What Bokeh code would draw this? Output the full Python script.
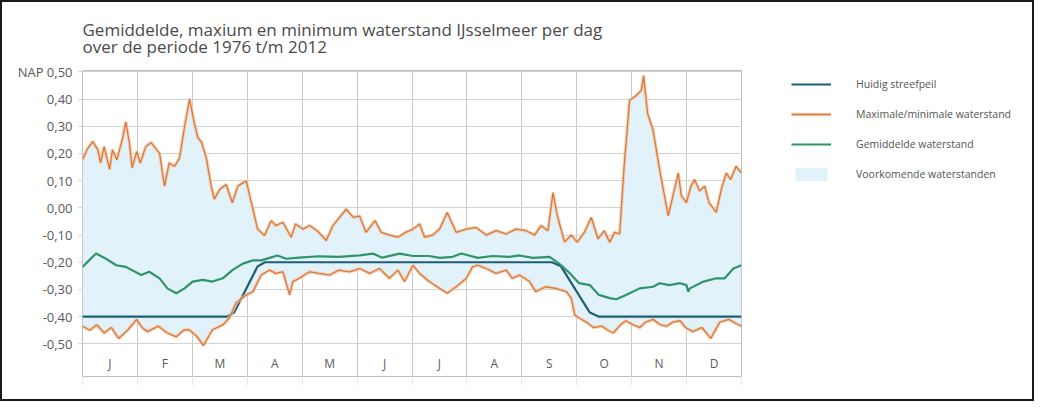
from bokeh.plotting import figure
from bokeh.layouts import row
from bokeh.models import FixedTicker, Legend, LegendItem, Range1d
from bokeh.core.properties import value
from bokeh.embed import file_html
from bokeh.resources import INLINE

# ---------------- data ----------------
months = ["J", "F", "M", "A", "M", "J", "J", "A", "S", "O", "N", "D"]
y_ticks = [0.5, 0.4, 0.3, 0.2, 0.1, 0.0, -0.1, -0.2, -0.3, -0.4, -0.5]
y_labels = ["NAP 0,50", "0,40", "0,30", "0,20", "0,10", "0,00",
            "-0,10", "-0,20", "-0,30", "-0,40", "-0,50"]

# maximum water level per day (day position, NAP m)
max_days = [0, 3, 5.7, 8.5, 10, 12, 15, 16.6, 19, 22, 24, 26, 27.5, 30, 32, 35, 38,
            42.7, 45.4, 48, 51, 53.7, 56.5, 59.3, 62, 64, 65.8, 68.6, 71.3, 73, 76,
            79.6, 83, 86, 88.8, 90.7, 94.4, 97, 100.8, 104.5, 107, 111, 115.6, 118,
            122, 125.8, 130, 135, 138.7, 146, 150, 153.5, 157, 162, 165.5, 170,
            174.7, 179, 183, 186.7, 189.5, 194, 197.8, 202, 207, 212.6, 218, 223.6,
            229, 234.7, 240, 245.8, 250.4, 254, 257.8, 260.6, 263, 267, 270.7, 274,
            278, 281.8, 285.5, 289, 292, 294.7, 297.5, 300, 303, 306.7, 309.5, 310.8,
            313, 316, 320, 324.4, 327, 330, 331.7, 334.5, 337, 339, 341.8, 344.6,
            347, 351, 353.8, 356.6, 359, 362, 365]
max_vals = [0.177, 0.22, 0.244, 0.213, 0.165, 0.225, 0.142, 0.214, 0.177, 0.25, 0.316,
            0.238, 0.147, 0.207, 0.165, 0.225, 0.24, 0.2, 0.08, 0.165, 0.153, 0.183,
            0.298, 0.401, 0.31, 0.256, 0.244, 0.183, 0.08, 0.032, 0.068, 0.086, 0.019,
            0.08, 0.092, 0.098, -0.005, -0.078, -0.102, -0.047, -0.065, -0.053, -0.108,
            -0.059, -0.078, -0.065, -0.084, -0.12, -0.065, -0.005, -0.035, -0.03,
            -0.09, -0.047, -0.09, -0.10, -0.108, -0.09, -0.078, -0.059, -0.108, -0.10,
            -0.078, -0.017, -0.09, -0.078, -0.072, -0.10, -0.084, -0.096, -0.078,
            -0.084, -0.10, -0.065, -0.084, 0.056, -0.029, -0.126, -0.10, -0.126,
            -0.09, -0.035, -0.114, -0.084, -0.126, -0.09, -0.096, 0.153, 0.395, 0.413,
            0.432, 0.486, 0.347, 0.286, 0.128, -0.029, 0.044, 0.128, 0.044, 0.019,
            0.08, 0.104, 0.062, 0.08, 0.019, -0.017, 0.068, 0.128, 0.104, 0.153, 0.128]

# minimum water level per day
min_days = [0, 4, 8, 12, 16, 20, 25, 30, 33, 36, 42, 47, 52, 56, 59, 63, 67, 72, 78,
            81.5, 85, 90.7, 94.4, 99, 103.6, 107, 111, 114.7, 116.5, 120, 125.8, 131,
            137, 142, 148, 153.5, 159, 164.5, 170, 174.7, 178.4, 183, 186.7, 192,
            197.8, 202, 207, 212.6, 216, 219, 223.6, 229, 234.7, 238, 242, 247.6, 251,
            256.6, 262, 268, 270.7, 272.6, 275, 279, 283, 287.7, 291, 294, 298, 301,
            305, 308.7, 312, 316, 320, 323.5, 327, 331, 334, 338, 343, 348, 353, 358,
            362, 365]
min_vals = [-0.435, -0.45, -0.43, -0.46, -0.44, -0.48, -0.45, -0.41, -0.44, -0.455,
            -0.435, -0.46, -0.474, -0.45, -0.448, -0.47, -0.506, -0.448, -0.429,
            -0.403, -0.35, -0.32, -0.308, -0.247, -0.229, -0.241, -0.235, -0.32,
            -0.271, -0.259, -0.235, -0.241, -0.247, -0.229, -0.235, -0.223, -0.241,
            -0.223, -0.259, -0.229, -0.271, -0.211, -0.241, -0.271, -0.296, -0.314,
            -0.29, -0.259, -0.217, -0.211, -0.223, -0.241, -0.229, -0.259, -0.247,
            -0.271, -0.308, -0.29, -0.296, -0.308, -0.332, -0.393, -0.405, -0.42,
            -0.44, -0.435, -0.45, -0.46, -0.43, -0.415, -0.43, -0.44, -0.42, -0.41,
            -0.43, -0.435, -0.42, -0.415, -0.44, -0.455, -0.44, -0.48, -0.42, -0.41,
            -0.425, -0.435]

# mean water level per day
mean_days = [0, 7.5, 13, 18.7, 24, 32.5, 37, 42.7, 47, 52, 56.5, 61, 66.6, 72, 77.7,
             83, 88.8, 94.4, 99, 103.6, 108, 112.8, 120, 131, 142, 153.5, 160.8, 166,
             175.6, 183, 192, 197.8, 205, 209.8, 214, 219, 227, 236.5, 242, 249.5,
             258.7, 264, 270, 275, 281, 286, 292, 295.7, 301, 308.6, 316, 319.7, 325,
             331, 334.5, 335.5, 336.4, 344, 351, 355.7, 360.5, 365]
mean_vals = [-0.217, -0.168, -0.187, -0.211, -0.217, -0.247, -0.235, -0.259, -0.296,
             -0.314, -0.296, -0.271, -0.265, -0.271, -0.259, -0.229, -0.205, -0.193,
             -0.193, -0.184, -0.175, -0.187, -0.183, -0.178, -0.18, -0.175, -0.168,
             -0.183, -0.168, -0.177, -0.177, -0.184, -0.18, -0.168, -0.175, -0.184,
             -0.177, -0.18, -0.175, -0.184, -0.18, -0.205, -0.241, -0.277, -0.284,
             -0.32, -0.332, -0.336, -0.32, -0.296, -0.29, -0.277, -0.284, -0.277,
             -0.284, -0.308, -0.296, -0.271, -0.259, -0.259, -0.223, -0.211]

# current target level (streefpeil)
peil_days = [0, 80, 84, 97, 101, 260, 265, 281, 286, 365]
peil_vals = [-0.40, -0.40, -0.385, -0.215, -0.20, -0.20, -0.215, -0.385, -0.40, -0.40]

legend_labels = ["Huidig streefpeil", "Maximale/minimale waterstand",
                 "Gemiddelde waterstand", "Voorkomende waterstanden"]

# ---------------- styling ----------------
year_len = 365
month_edges = [year_len * i / 12 for i in range(13)]
month_mid = [year_len * (i + 0.5) / 12 for i in range(12)]

FONT = "Open Sans"
TXT = "#555555"
C_PEIL = "#1f5e74"
C_MAXMIN = "#d57a3e"
C_HALO = "#f6c3a0"
C_MEAN = "#2f9466"
C_BAND = "#e1f2fa"

band_x = max_days + min_days[::-1]
band_y = max_vals + min_vals[::-1]


def draw_series(fig):
    """Draw all series on a figure; returns the renderers used by the legend."""
    r_band = fig.patch(x=band_x, y=band_y, fill_color=C_BAND, line_color=None)
    r_peil = fig.line(peil_days, peil_vals, line_color=C_PEIL, line_width=2.2)
    r_halo = fig.line(max_days, max_vals, line_color=C_HALO, line_width=3.5, line_alpha=0.7)
    fig.line(min_days, min_vals, line_color=C_HALO, line_width=3.5, line_alpha=0.7)
    r_mm = fig.line(max_days, max_vals, line_color=C_MAXMIN, line_width=1.3)
    fig.line(min_days, min_vals, line_color=C_MAXMIN, line_width=1.3)
    r_mean = fig.line(mean_days, mean_vals, line_color=C_MEAN, line_width=2.2)
    return r_peil, [r_halo, r_mm], r_mean, r_band


# ---------------- main chart ----------------
p = figure(width=749, height=397, x_range=(0, year_len), y_range=(-0.62, 0.505),
           output_backend="svg", toolbar_location=None,
           min_border_left=80, min_border_right=10, min_border_top=68,
           min_border_bottom=23)

p.title.text = ("Gemiddelde, maxium en minimum waterstand IJsselmeer per dag\n"
                "over de periode 1976 t/m 2012")
p.title.text_font = FONT
p.title.text_font_size = "17px"
p.title.text_font_style = "normal"
p.title.text_color = "#4a4a4a"
p.title.text_line_height = 0.78
p.title.align = "left"
p.title.vertical_align = "top"
p.title.standoff = 20

p.background_fill_color = "white"
p.border_fill_color = "white"
p.outline_line_color = "#bdbdbd"

p.xgrid.ticker = FixedTicker(ticks=month_edges)
p.xgrid.grid_line_color = "#c9c9c9"
p.ygrid.ticker = FixedTicker(ticks=y_ticks)
p.ygrid.grid_line_color = "#d2d2d2"

p.yaxis.ticker = FixedTicker(ticks=y_ticks)
p.yaxis.major_label_overrides = {t: l for t, l in zip(y_ticks, y_labels)}
p.yaxis.axis_line_color = None
p.yaxis.major_tick_out = 4
p.yaxis.major_tick_in = 0
p.yaxis.major_tick_line_color = "#d0d0d0"
p.yaxis.minor_tick_line_color = None
p.yaxis.major_label_text_font = FONT
p.yaxis.major_label_text_font_size = "13px"
p.yaxis.major_label_text_color = "#5a5a5a"
p.yaxis.major_label_standoff = 6

p.xaxis.ticker = FixedTicker(ticks=month_edges)
p.xaxis.major_label_overrides = {t: "" for t in month_edges}
p.xaxis.axis_line_color = None
p.xaxis.major_tick_out = 9
p.xaxis.major_tick_in = 0
p.xaxis.major_tick_line_color = "#e8e8e8"
p.xaxis.minor_tick_line_color = None
p.xaxis.major_label_text_font_size = "1px"

draw_series(p)

p.text(x=month_mid, y=[-0.572] * 12, text=months, text_align="center",
       text_baseline="middle", text_font=value(FONT), text_font_size="12px",
       text_color="#5a5a5a")

# ---------------- legend panel (same series, ranges chosen so nothing is visible) ----
lg = figure(width=281, height=397, x_range=Range1d(1000, 1001), y_range=Range1d(10, 11),
            output_backend="svg", toolbar_location=None,
            min_border=0, min_border_left=0, min_border_right=0,
            min_border_top=0, min_border_bottom=0)
lg.axis.visible = False
lg.grid.visible = False
lg.outline_line_color = None
lg.background_fill_color = "white"
lg.border_fill_color = "white"

r_peil, r_mm, r_mean, r_band = draw_series(lg)

legend = Legend(items=[
    LegendItem(label=legend_labels[0], renderers=[r_peil]),
    LegendItem(label=legend_labels[1], renderers=r_mm),
    LegendItem(label=legend_labels[2], renderers=[r_mean]),
    LegendItem(label=legend_labels[3], renderers=[r_band]),
], location=(40, 194))
legend.background_fill_alpha = 0
legend.border_line_color = None
legend.padding = 0
legend.margin = 0
legend.glyph_width = 40
legend.glyph_height = 16
legend.label_height = 16
legend.spacing = 14
legend.label_standoff = 25
legend.label_text_font = FONT
legend.label_text_font_size = "10.5px"
legend.label_text_color = TXT
lg.add_layout(legend, "center")

layout = row(p, lg, styles={"border": "2px solid #1a1a1a"})

open("out.html", "w").write(file_html(layout, INLINE))
